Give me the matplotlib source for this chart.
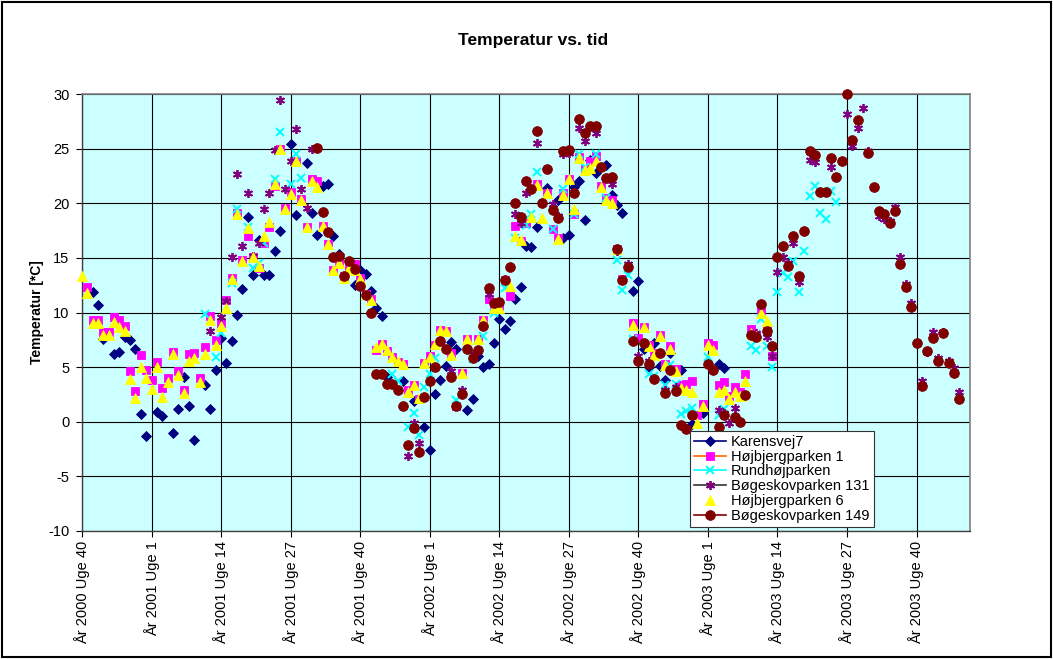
import matplotlib
matplotlib.use("Agg")
import matplotlib.pyplot as plt
from matplotlib.lines import Line2D
from matplotlib.patches import Rectangle

plt.rcParams["font.family"] = ["Liberation Sans", "DejaVu Sans"]
plt.rcParams["axes.unicode_minus"] = False

# =========================
# data: (week index, temperature) -- index 0 = År 2000 Uge 40
# =========================

karensvej7 = [
    (2, 11.9), (3, 10.7), (4, 7.6), (6, 6.2), (7, 6.4), (8, 7.8), (9, 7.5), (10, 6.7), (11, 0.7), (12, -1.3),
    (14, 0.85), (15, 0.55), (17, -1.0), (18, 1.2), (19, 4.1), (20, 1.4), (21, -1.65), (23, 3.4), (24, 1.15), (25, 4.7),
    (26, 7.7), (27, 5.4), (28, 7.4), (29, 9.75), (30, 12.15), (31, 18.7), (32, 13.4), (33, 16.6), (34, 13.4), (35, 13.4),
    (36, 15.6), (37, 17.5), (39, 25.4), (40, 18.9), (42, 23.7), (43, 19.1), (44, 17.1), (45, 21.6), (46, 21.8), (47, 17.0),
    (48, 15.4), (51, 12.5), (52, 13.9), (53, 13.5), (54, 12.0), (55, 10.4), (56, 9.7), (57, 4.1), (60, 3.7), (62, 1.9),
    (64, -0.45), (65, -2.6), (66, 2.5), (67, 3.8), (68, 5.1), (69, 7.3), (70, 6.7), (72, 1.1), (73, 2.1), (74, 6.0),
    (75, 5.0), (76, 5.3), (77, 7.2), (78, 9.4), (79, 8.5), (80, 9.2), (81, 11.2), (82, 12.3), (83, 16.1), (84, 16.0),
    (85, 17.85), (87, 21.4), (89, 20.3), (90, 16.8), (91, 17.1), (92, 21.5), (93, 22.0), (94, 18.5), (95, 23.95), (96, 22.8),
    (98, 23.5), (99, 20.8), (100, 19.8), (101, 19.1), (103, 12.0), (104, 12.9), (105, 6.7), (106, 5.0), (107, 7.2), (108, 5.1),
    (109, 3.8), (110, 6.3), (112, 4.7), (114, -0.2), (116, 0.8), (119, 5.3), (120, 4.9),
]

hojbjerg1 = [
    (1, 12.3), (2, 9.3), (3, 9.3), (4, 8.2), (5, 8.2), (6, 9.6), (7, 9.3), (8, 8.8), (9, 4.6), (10, 2.85),
    (11, 6.1), (12, 4.7), (13, 3.8), (14, 5.5), (15, 3.05), (16, 4.0), (17, 6.35), (18, 4.6), (19, 2.9), (20, 6.2),
    (21, 6.3), (22, 4.0), (23, 6.8), (24, 9.7), (25, 7.5), (26, 9.0), (27, 11.1), (28, 13.2), (29, 19.1), (30, 14.8),
    (31, 17.0), (32, 15.1), (33, 14.1), (34, 16.4), (35, 17.85), (36, 21.6), (37, 25.0), (38, 19.6), (39, 21.0), (40, 23.9),
    (41, 20.4), (42, 17.8), (43, 22.2), (44, 22.0), (45, 17.95), (46, 16.3), (47, 13.9), (48, 14.7), (49, 13.3), (50, 14.2),
    (51, 14.4), (52, 13.15), (53, 11.7), (54, 11.2), (55, 6.6), (56, 7.1), (57, 6.5), (58, 5.95), (59, 5.5), (60, 5.3),
    (61, 2.9), (62, 3.4), (63, 2.1), (64, 5.4), (65, 6.0), (66, 7.0), (67, 8.4), (68, 8.35), (69, 6.3), (70, 1.4),
    (71, 4.5), (72, 7.6), (74, 7.6), (75, 9.3), (76, 11.2), (77, 10.4), (78, 10.4), (79, 13.0), (80, 11.5), (81, 17.9),
    (82, 16.5), (83, 18.2), (85, 21.8), (87, 20.9), (88, 17.6), (89, 16.8), (90, 20.9), (91, 22.2), (92, 19.0), (93, 24.2),
    (94, 23.1), (95, 23.9), (96, 24.3), (97, 21.6), (98, 20.5), (99, 20.3), (100, 15.8), (101, 13.1), (103, 9.0), (104, 7.65),
    (105, 8.7), (106, 7.0), (107, 6.3), (108, 7.95), (109, 5.3), (110, 6.9), (111, 4.8), (112, 3.4), (113, 3.5), (114, 3.7),
    (115, 0.6), (116, 1.6), (117, 7.2), (118, 7.0), (119, 3.4), (120, 3.6), (121, 2.4), (122, 3.2), (123, 2.75), (124, 4.4),
    (125, 8.5), (126, 7.9), (127, 10.2), (128, 8.45), (129, 6.0),
]

rundhoj = [
    (23, 9.85), (25, 5.95), (26, 8.1), (28, 12.7), (29, 19.5), (31, 17.8), (32, 14.1), (33, 14.5), (34, 16.4), (36, 22.2),
    (37, 26.5), (39, 21.75), (40, 24.5), (41, 22.3), (58, 4.4), (59, 3.75), (61, -0.5), (62, 0.8), (63, -1.25), (64, 3.15),
    (65, 4.4), (66, 5.8), (70, 2.0), (73, 5.75), (75, 7.85), (77, 10.0), (79, 12.25), (81, 16.8), (83, 18.0), (84, 19.0),
    (85, 22.9), (88, 17.6), (90, 21.3), (92, 19.0), (93, 24.5), (94, 23.3), (96, 24.5), (98, 20.5), (100, 14.8), (101, 12.05),
    (102, 13.45), (103, 7.55), (106, 4.35), (107, 4.2), (109, 3.4), (110, 5.2), (111, 3.45), (112, 0.7), (113, 1.0), (114, 1.3),
    (117, 5.9), (119, 0.6), (120, 1.2), (125, 6.95), (126, 6.55), (127, 9.45), (128, 6.9), (129, 5.0), (130, 11.85), (131, 13.65),
    (132, 13.25), (133, 14.75), (134, 11.9), (135, 15.65), (136, 20.7), (137, 21.6), (138, 19.1), (139, 18.55), (140, 21.1), (141, 20.1),
]

bogeskov131 = [
    (24, 8.3), (26, 9.6), (27, 11.05), (28, 15.1), (29, 22.7), (30, 16.1), (31, 20.9), (32, 15.2), (33, 16.4), (34, 19.5),
    (35, 20.9), (36, 24.9), (37, 29.45), (38, 21.3), (39, 23.9), (40, 26.8), (41, 21.3), (42, 19.6), (43, 25.0), (61, -3.15),
    (62, -0.1), (63, -1.9), (69, 4.6), (71, 2.95), (73, 6.2), (76, 11.7), (81, 19.05), (82, 18.2), (83, 20.9), (85, 25.5),
    (88, 19.9), (89, 18.8), (90, 24.5), (91, 24.6), (93, 26.9), (94, 25.7), (96, 26.45), (98, 22.3), (99, 21.75), (100, 15.6),
    (102, 14.4), (104, 6.0), (106, 5.6), (109, 2.9), (111, 3.2), (114, 0.6), (119, 1.1), (120, 0.8), (121, -0.15), (122, 1.3),
    (126, 8.1), (128, 7.8), (129, 6.0), (130, 13.75), (131, 15.1), (132, 14.55), (133, 16.4), (134, 12.8), (135, 17.5), (136, 23.95),
    (137, 23.8), (140, 23.35), (143, 28.2), (144, 25.2), (145, 26.85), (146, 28.7), (147, 24.8), (148, 21.5), (149, 18.8), (150, 18.55),
    (151, 18.4), (152, 19.7), (153, 15.1), (154, 12.6), (155, 10.9), (157, 3.75), (158, 6.4), (159, 8.2), (160, 5.85), (161, 8.2),
    (162, 5.6), (163, 4.9), (164, 2.75),
]

hojbjerg6 = [
    (0, 13.3), (1, 11.8), (2, 9.0), (3, 9.0), (4, 7.9), (5, 7.9), (6, 9.1), (7, 8.7), (8, 8.3), (9, 3.9),
    (10, 2.2), (11, 5.0), (12, 4.0), (13, 3.0), (14, 5.0), (15, 2.3), (16, 3.6), (17, 6.2), (18, 4.3), (19, 2.6),
    (20, 5.6), (21, 5.8), (22, 3.6), (23, 6.2), (24, 9.3), (25, 7.0), (26, 8.8), (27, 10.4), (28, 13.1), (29, 19.0),
    (30, 14.7), (31, 17.7), (32, 15.1), (33, 14.3), (34, 17.0), (35, 18.3), (36, 21.8), (37, 25.0), (38, 19.5), (39, 20.85),
    (40, 23.85), (41, 20.3), (42, 17.8), (43, 22.0), (44, 21.5), (45, 17.9), (46, 16.3), (47, 13.9), (48, 14.5), (49, 13.15),
    (50, 14.1), (51, 13.9), (52, 13.05), (53, 11.7), (54, 11.15), (55, 6.8), (56, 7.1), (57, 6.55), (58, 5.95), (59, 5.6),
    (60, 5.3), (61, 2.7), (62, 3.4), (63, 2.2), (64, 5.4), (65, 5.9), (66, 7.1), (67, 8.4), (68, 8.3), (69, 6.1),
    (71, 4.5), (72, 7.55), (74, 7.55), (75, 9.3), (77, 10.4), (78, 10.4), (80, 12.4), (81, 17.0), (82, 16.6), (84, 18.7),
    (85, 21.7), (86, 18.65), (87, 20.9), (89, 16.75), (90, 20.8), (91, 22.2), (92, 19.5), (93, 24.1), (94, 23.0), (95, 23.2),
    (96, 23.9), (97, 21.5), (98, 20.3), (99, 20.0), (100, 15.8), (103, 8.9), (105, 8.65), (106, 6.95), (107, 6.1), (108, 7.85),
    (109, 5.2), (110, 6.7), (111, 4.65), (112, 3.05), (113, 2.95), (114, 2.75), (115, -0.1), (116, 1.4), (117, 7.0), (118, 6.6),
    (119, 2.75), (120, 2.95), (121, 2.05), (122, 2.75), (123, 2.35), (124, 3.75), (125, 8.1), (126, 7.85), (127, 10.0), (128, 9.2),
]

bogeskov149 = [
    (44, 25.05), (45, 19.2), (46, 17.4), (47, 15.1), (48, 15.2), (49, 13.3), (50, 14.7), (51, 14.0), (52, 12.4), (53, 11.6),
    (54, 10.0), (55, 4.4), (56, 4.4), (57, 3.5), (58, 3.45), (59, 2.9), (60, 1.4), (61, -2.1), (62, -0.6), (63, -2.75),
    (64, 2.3), (65, 3.7), (66, 5.0), (67, 7.4), (68, 6.7), (69, 4.1), (70, 1.4), (71, 2.5), (72, 6.7), (73, 5.8),
    (74, 6.6), (75, 8.8), (76, 12.2), (77, 10.9), (78, 11.0), (79, 13.0), (80, 14.2), (81, 20.0), (82, 18.75), (83, 22.0),
    (84, 21.3), (85, 26.6), (86, 20.0), (87, 23.1), (88, 19.4), (89, 18.65), (90, 24.8), (91, 24.9), (92, 20.9), (93, 27.7),
    (94, 26.45), (95, 27.1), (96, 27.1), (97, 23.3), (98, 22.3), (99, 22.4), (100, 15.8), (101, 13.0), (102, 14.2), (103, 7.4),
    (104, 5.6), (105, 7.2), (106, 5.25), (107, 3.9), (108, 6.3), (109, 2.65), (110, 4.7), (111, 2.8), (112, -0.3), (113, -0.65),
    (114, 0.6), (117, 5.25), (118, 4.75), (119, -0.45), (120, 0.6), (122, 0.4), (123, 0.0), (124, 2.45), (125, 7.9), (126, 7.8),
    (127, 10.8), (128, 8.3), (129, 6.95), (130, 15.1), (131, 16.1), (132, 14.3), (133, 17.0), (134, 13.3), (135, 17.5), (136, 24.8),
    (137, 24.45), (138, 21.0), (139, 21.0), (140, 24.15), (141, 22.4), (142, 23.9), (143, 30.0), (144, 25.8), (145, 27.65), (147, 24.6),
    (148, 21.45), (149, 19.25), (150, 19.0), (151, 18.2), (152, 19.3), (153, 14.45), (154, 12.3), (155, 10.5), (156, 7.2), (157, 3.3),
    (158, 6.5), (159, 7.7), (160, 5.6), (161, 8.1), (162, 5.35), (163, 4.5), (164, 2.1),
]

tick_labels = [
    "År 2000 Uge 40", "År 2001 Uge 1", "År 2001 Uge 14", "År 2001 Uge 27", "År 2001 Uge 40",
    "År 2002 Uge 1", "År 2002 Uge 14", "År 2002 Uge 27", "År 2002 Uge 40",
    "År 2003 Uge 1", "År 2003 Uge 14", "År 2003 Uge 27", "År 2003 Uge 40",
]
n_weeks = 167
label_step = 13

# (name, data, marker, marker colour, legend line colour, marker size, edge width)
series = [
    ("Karensvej7", karensvej7, "D", "#000080", "#000080", 4.6, 0.6),
    ("Højbjergparken 1", hojbjerg1, "s", "#FF00FF", "#FF6600", 6.0, 0.6),
    ("Rundhøjparken", rundhoj, "x", "#00FFFF", "#00FFFF", 5.5, 1.4),
    ("Bøgeskovparken 131", bogeskov131, (6, 2, 0), "#800080", "#333333", 6.5, 1.3),
    ("Højbjergparken 6", hojbjerg6, "^", "#FFFF00", None, 6.8, 0.6),
    ("Bøgeskovparken 149", bogeskov149, "o", "#800000", "#800000", 7.0, 0.6),
]

# =========================
# plot
# =========================

fig = plt.figure(figsize=(10.53, 6.59), dpi=100)
ax = fig.add_axes([82 / 1053, 1 - 531 / 659, 888 / 1053, 437 / 659])
ax.set_facecolor("#CCFFFF")

handles = []
for name, data, marker, color, line_color, ms, mew in series:
    xs = [d[0] for d in data]
    ys = [d[1] for d in data]
    ax.plot(xs, ys, linestyle="none", marker=marker, color=color,
            markersize=ms, markeredgewidth=mew, markeredgecolor=color,
            clip_on=False, zorder=3)
    handles.append(Line2D([0], [0], color=line_color or "none", linewidth=1.2,
                          marker=marker, markersize=ms, markerfacecolor=color,
                          markeredgecolor=color, markeredgewidth=mew, label=name))

ax.set_xlim(0, n_weeks - 1)
ax.set_ylim(-10, 30)
ax.set_yticks(range(-10, 31, 5))
ax.set_xticks([i * label_step for i in range(len(tick_labels))])
ax.set_xticklabels(tick_labels, rotation=90, ha="center", va="top")

ax.grid(True, color="black", linewidth=0.8)
ax.set_axisbelow(True)
ax.tick_params(axis="both", direction="out", length=4, width=0.8, labelsize=10.5, pad=3)
ax.tick_params(axis="y", pad=5)

for side in ["top", "right"]:
    ax.spines[side].set_color("#808080")
    ax.spines[side].set_linewidth(1.2)
for side in ["left", "bottom"]:
    ax.spines[side].set_color("#404040")
    ax.spines[side].set_linewidth(1.0)

ax.set_ylabel("Temperatur [*C]", fontsize=10, fontweight="bold", labelpad=3)
fig.text(533 / 1053, 1 - 40 / 659, "Temperatur vs. tid", ha="center", va="center",
         fontsize=12.5, fontweight="bold")

leg = ax.legend(handles=handles, loc="lower left",
                bbox_to_anchor=((690 - 82) / 888, (531 - 527) / 437),
                fontsize=10.5, frameon=True, fancybox=False, framealpha=1,
                edgecolor="#333333", borderpad=0.3, labelspacing=0.05,
                handlelength=2.2, handletextpad=0.3, borderaxespad=0)
leg.get_frame().set_linewidth(0.8)
leg.set_zorder(5)

fig.patches.append(Rectangle((0.002, 0.003), 0.996, 0.994, transform=fig.transFigure,
                             fill=False, edgecolor="black", linewidth=1.5))

plt.savefig("out.png", dpi=100)
plt.close()
